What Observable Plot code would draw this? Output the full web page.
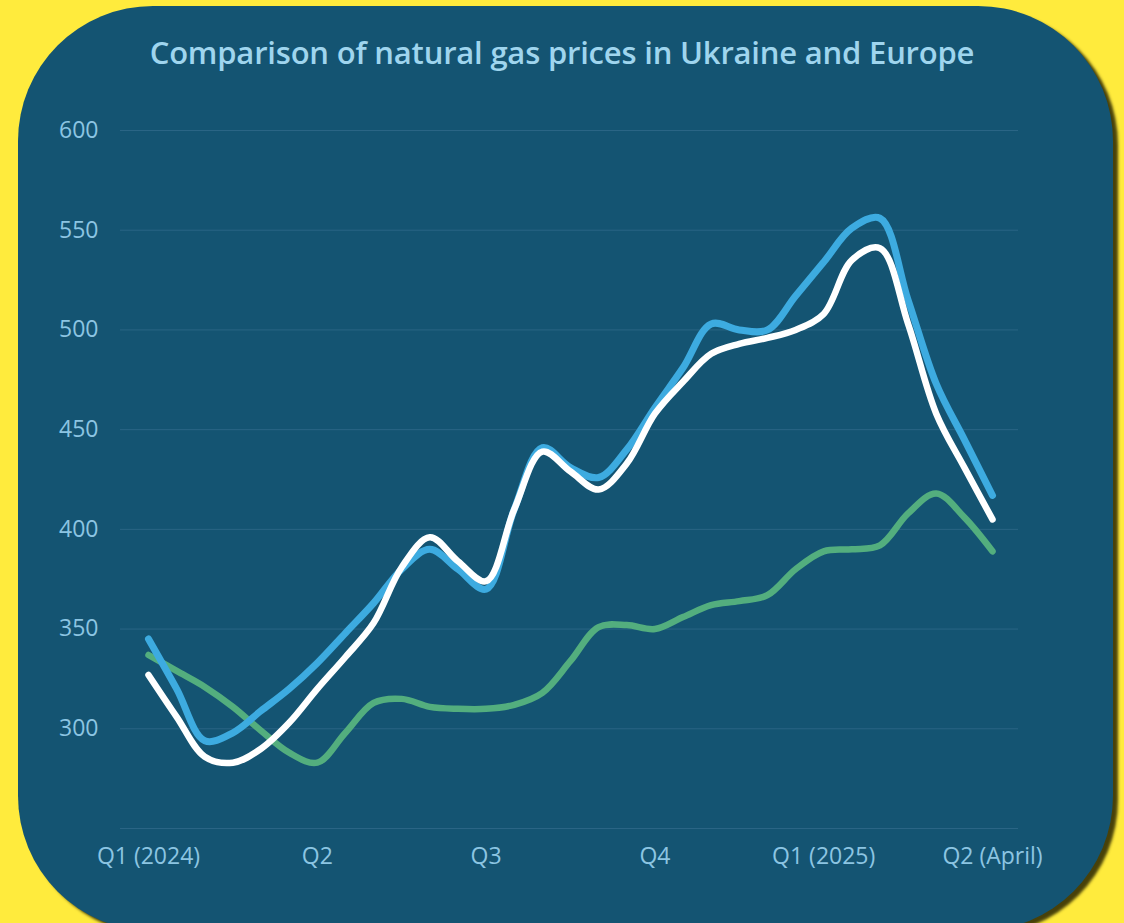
<!DOCTYPE html>
<html>
<head>
<meta charset="utf-8">
<script src="https://cdn.jsdelivr.net/npm/d3@7"></script>
<script src="https://cdn.jsdelivr.net/npm/@observablehq/plot@0.6"></script>
<style>
  html, body { margin: 0; padding: 0; width: 1124px; height: 923px; overflow: hidden; background: #ffeb3d; }
  #panel { position: absolute; left: 18px; top: 6px; width: 1095px; height: 925px; background: #145472;
           border-radius: 135px; box-shadow: 5px 4px 3px rgba(40,35,0,0.85); }
  #title { position: absolute; left: 0; top: 31px; width: 1124px; text-align: center; color: #9fd5ee;
           font-family: "Open Sans", Lato, sans-serif; font-weight: 600; font-size: 31px; letter-spacing: -0.2px; }
  #chart { position: absolute; left: 0; top: 0; }
</style>
</head>
<body>
<div id="panel"></div>
<div id="title">Comparison of natural gas prices in Ukraine and Europe</div>
<div id="chart"></div>
<script>
// x positions: months since Jan 2024, half-month steps (0 .. 15 = April 2025)
const months = [0,0.5,1,1.5,2,2.5,3,3.5,4,4.5,5,5.5,6,6.5,7,7.5,8,8.5,9,9.5,10,10.5,11,11.5,12,12.5,13,13.5,14,14.5,15];
const blueSeries  = [345,320,294,298,309,320,333,348,363,380,390,380,370,410,441,431,426,440,461,481,503,500,500,517,534,551,556,515,473,445,417];
const whiteSeries = [327,306,286,283,290,303,320,336,353,381,396,384,374,410,439,429,420,433,458,474,488,493,496,500,508,535,541,503,458,431,405];
const greenSeries = [337,329,321,311,299,288,283,298,313,315,311,310,310,312,318,334,351,352,350,356,362,364,367,380,389,390,392,408,418,406,389];
const tickMonths = [0,3,6,9,12,15];
const tickLabels = ["Q1 (2024)","Q2","Q3","Q4","Q1 (2025)","Q2 (April)"];
const yTicks = [300,350,400,450,500,550,600];
const gridTicks = [250,300,350,400,450,500,550,600];

const rows = (vals, s) => months.map((m, i) => ({m, v: vals[i], s}));
const green = rows(greenSeries, "green");
const blue = rows(blueSeries, "blue");
const white = rows(whiteSeries, "white");

const font = "'Open Sans', Lato, sans-serif";
const chart = Plot.plot({
  width: 1124,
  height: 923,
  marginLeft: 120,
  marginRight: 106,
  marginTop: 130,
  marginBottom: 95,
  style: { background: "transparent", fontFamily: font, fontSize: "23px", fontWeight: 400, color: "#8fc6e2" },
  x: { domain: [0, 15], insetLeft: 28, insetRight: 26, label: null },
  y: { domain: [250, 600], label: null },
  marks: [
    Plot.gridY(gridTicks, { stroke: "#2a6585", strokeOpacity: 1, strokeWidth: 1 }),
    Plot.axisY(yTicks, { tickSize: 0, tickPadding: 22, label: null, fill: "#8cc5e2", fontSize: 23 }),
    Plot.axisX(tickMonths, { tickSize: 0, tickPadding: 19, label: null, fill: "#8cc5e2", fontSize: 23,
      tickFormat: d => tickLabels[tickMonths.indexOf(d)] }),
    Plot.line(green, { x: "m", y: "v", stroke: "#53ae7e", strokeWidth: 6.5, curve: "catmull-rom", strokeLinecap: "round" }),
    Plot.line(blue, { x: "m", y: "v", stroke: "#3dabe0", strokeWidth: 7, curve: "catmull-rom", strokeLinecap: "round" }),
    Plot.line(white, { x: "m", y: "v", stroke: "#ffffff", strokeWidth: 6.5, curve: "catmull-rom", strokeLinecap: "round" })
  ]
});
document.getElementById("chart").appendChild(chart);
</script>
</body>
</html>
